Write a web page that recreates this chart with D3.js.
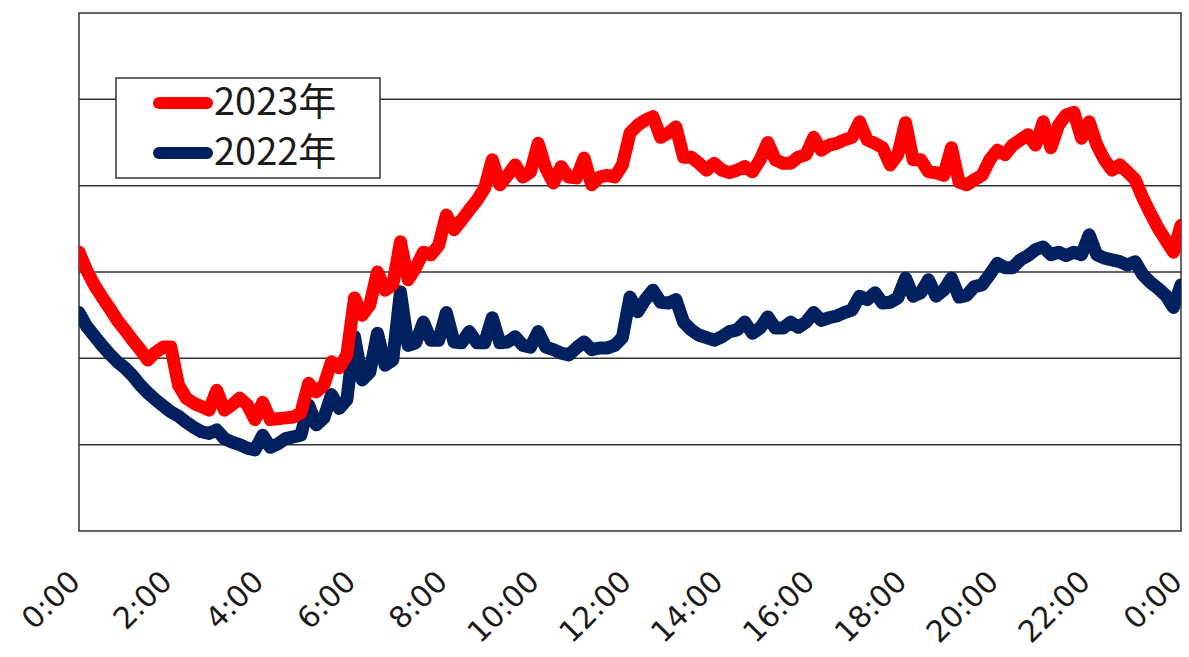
<!DOCTYPE html>
<html>
<head>
<meta charset="utf-8">
<script src="https://cdn.jsdelivr.net/npm/d3@7"></script>
<style>
  html, body { margin: 0; padding: 0; background: #fff; }
  svg { display: block; }
  text { fill: #1a1a1a; }
</style>
</head>
<body>
<svg id="chart" width="1189" height="657"></svg>
<script>
// Sample times: every 10 minutes from 0:00 to the next day's 0:00
const minutes = d3.range(0, 24 * 60 + 1, 10);

const tickLabels = ["0:00", "2:00", "4:00", "6:00", "8:00", "10:00", "12:00",
  "14:00", "16:00", "18:00", "20:00", "22:00", "0:00"];

const seriesNames = ["2023年", "2022年"];
const seriesColors = ["#ff0000", "#002060"];

const values2023 = [
  32.3, 30.2, 28.5, 27.1, 25.8, 24.4, 23.3, 22.1, 21.0, 19.8,
  20.7, 21.3, 21.3, 16.9, 15.4, 14.8, 14.4, 14.0, 16.3, 14.0,
  14.6, 15.4, 14.6, 12.9, 14.9, 12.9, 13.0, 13.1, 13.2, 13.7,
  17.1, 16.1, 16.9, 19.6, 18.9, 20.4, 27.0, 25.0, 26.2, 30.0,
  27.9, 28.5, 33.5, 29.1, 30.5, 32.3, 32.0, 33.1, 36.6, 34.9,
  36.0, 37.2, 38.3, 39.7, 43.0, 40.1, 41.2, 42.4, 41.0, 41.6,
  44.9, 42.0, 40.3, 42.2, 41.0, 40.9, 43.2, 40.1, 41.0, 41.2,
  41.0, 42.4, 46.1, 47.0, 47.6, 48.0, 45.6, 46.1, 46.8, 43.3,
  43.3, 42.6, 41.8, 42.6, 41.8, 41.5, 41.8, 42.2, 41.6, 43.0,
  45.0, 43.0, 42.6, 42.6, 43.3, 43.6, 45.6, 44.1, 44.7, 44.9,
  45.3, 45.6, 47.4, 45.3, 44.9, 44.4, 42.4, 43.6, 47.3, 43.0,
  43.0, 41.6, 41.5, 41.2, 44.4, 40.4, 40.1, 40.7, 41.2, 43.0,
  44.1, 43.6, 44.7, 45.3, 45.9, 44.7, 47.4, 44.4, 47.0, 48.2,
  48.5, 45.5, 47.4, 44.7, 43.0, 41.8, 42.4, 41.6, 40.7, 38.6,
  36.8, 35.1, 33.7, 32.3, 35.4
];

const values2022 = [
  25.3, 23.7, 22.6, 21.5, 20.5, 19.6, 18.9, 18.0, 16.9, 16.0,
  15.2, 14.5, 13.8, 13.3, 12.6, 12.0, 11.5, 11.3, 11.7, 10.7,
  10.3, 10.0, 9.6, 9.4, 11.1, 9.7, 10.1, 10.7, 10.9, 11.1,
  14.6, 12.3, 13.1, 15.8, 14.2, 15.2, 22.5, 17.5, 18.4, 22.9,
  19.2, 19.8, 27.7, 21.5, 21.8, 24.2, 22.1, 22.1, 25.3, 21.9,
  21.8, 23.1, 21.8, 21.8, 24.7, 21.8, 21.9, 22.5, 21.5, 21.3,
  23.1, 21.3, 21.0, 20.6, 20.4, 21.2, 21.9, 21.0, 21.2, 21.2,
  21.5, 22.4, 27.1, 25.4, 26.8, 27.9, 26.5, 26.4, 26.8, 24.2,
  23.3, 22.7, 22.4, 22.1, 22.5, 23.1, 23.3, 24.2, 22.9, 23.5,
  24.8, 23.5, 23.5, 24.2, 23.6, 24.2, 25.3, 24.4, 24.7, 24.9,
  25.3, 25.6, 27.2, 26.8, 27.6, 26.4, 26.5, 27.0, 29.3, 27.2,
  27.6, 29.1, 27.2, 27.9, 29.3, 27.1, 27.3, 28.3, 28.5, 29.7,
  31.0, 30.5, 30.5, 31.4, 31.9, 32.6, 32.9, 32.0, 32.3, 31.9,
  32.3, 32.0, 34.3, 32.0, 31.6, 31.4, 31.2, 30.8, 31.2, 29.7,
  28.8, 28.1, 27.3, 25.9, 28.5
];

const gridValues = [10, 20, 30, 40, 50];

const svg = d3.select("#chart");
const plot = { left: 79, top: 13, right: 1181, bottom: 531 };

const x = d3.scaleLinear().domain([0, 24 * 60]).range([plot.left, plot.right]);
const y = d3.scaleLinear().domain([0, 60]).range([plot.bottom, plot.top]);

// horizontal gridlines
svg.append("g")
  .selectAll("line")
  .data(gridValues)
  .join("line")
  .attr("x1", plot.left).attr("x2", plot.right)
  .attr("y1", d => y(d)).attr("y2", d => y(d))
  .attr("stroke", "#333").attr("stroke-width", 1.5);

// plot frame
svg.append("rect")
  .attr("x", plot.left).attr("y", plot.top)
  .attr("width", plot.right - plot.left).attr("height", plot.bottom - plot.top)
  .attr("fill", "none").attr("stroke", "#333").attr("stroke-width", 1.5);

// x axis with labels turned 45 degrees
const xAxis = d3.axisBottom(x)
  .tickValues(d3.range(0, 24 * 60 + 1, 120))
  .tickSize(0)
  .tickFormat((d, i) => tickLabels[i]);

const axisG = svg.append("g")
  .attr("transform", `translate(0,${plot.bottom})`)
  .call(xAxis);
axisG.select(".domain").remove();
axisG.selectAll("text")
  .attr("font-family", "'DejaVu Sans', sans-serif")
  .attr("font-size", 30)
  .attr("fill", "#1a1a1a")
  .attr("text-anchor", "end")
  .attr("dy", "0.35em")
  .attr("y", 0)
  .attr("transform", "translate(-5,45) rotate(-45)");

// series lines
const line = d3.line()
  .x((d, i) => x(minutes[i]))
  .y(d => y(d));

svg.append("clipPath").attr("id", "plot-clip")
  .append("rect")
  .attr("x", plot.left).attr("y", plot.top - 10)
  .attr("width", plot.right - plot.left).attr("height", plot.bottom - plot.top + 20);

[[values2022, 1], [values2023, 0]].forEach(([vals, idx]) => {
  svg.append("path")
    .datum(vals)
    .attr("clip-path", "url(#plot-clip)")
    .attr("fill", "none")
    .attr("stroke", seriesColors[idx])
    .attr("stroke-width", 13)
    .attr("stroke-linejoin", "round")
    .attr("stroke-linecap", "round")
    .attr("d", line);
});

// legend
const legend = svg.append("g");
legend.append("rect")
  .attr("x", 116).attr("y", 78).attr("width", 264).attr("height", 100)
  .attr("fill", "#fff").attr("stroke", "#333").attr("stroke-width", 1.5);

seriesNames.forEach((name, i) => {
  const ly = 103 + i * 50;
  legend.append("line")
    .attr("x1", 159).attr("x2", 207)
    .attr("y1", ly).attr("y2", ly)
    .attr("stroke", seriesColors[i])
    .attr("stroke-width", 12)
    .attr("stroke-linecap", "round");
  legend.append("text")
    .attr("x", 214).attr("y", 115 + i * 50)
    .attr("font-family", "'Noto Sans CJK JP', sans-serif")
    .attr("font-size", 38)
    .attr("fill", "#1a1a1a")
    .text(name);
});
</script>
</body>
</html>
